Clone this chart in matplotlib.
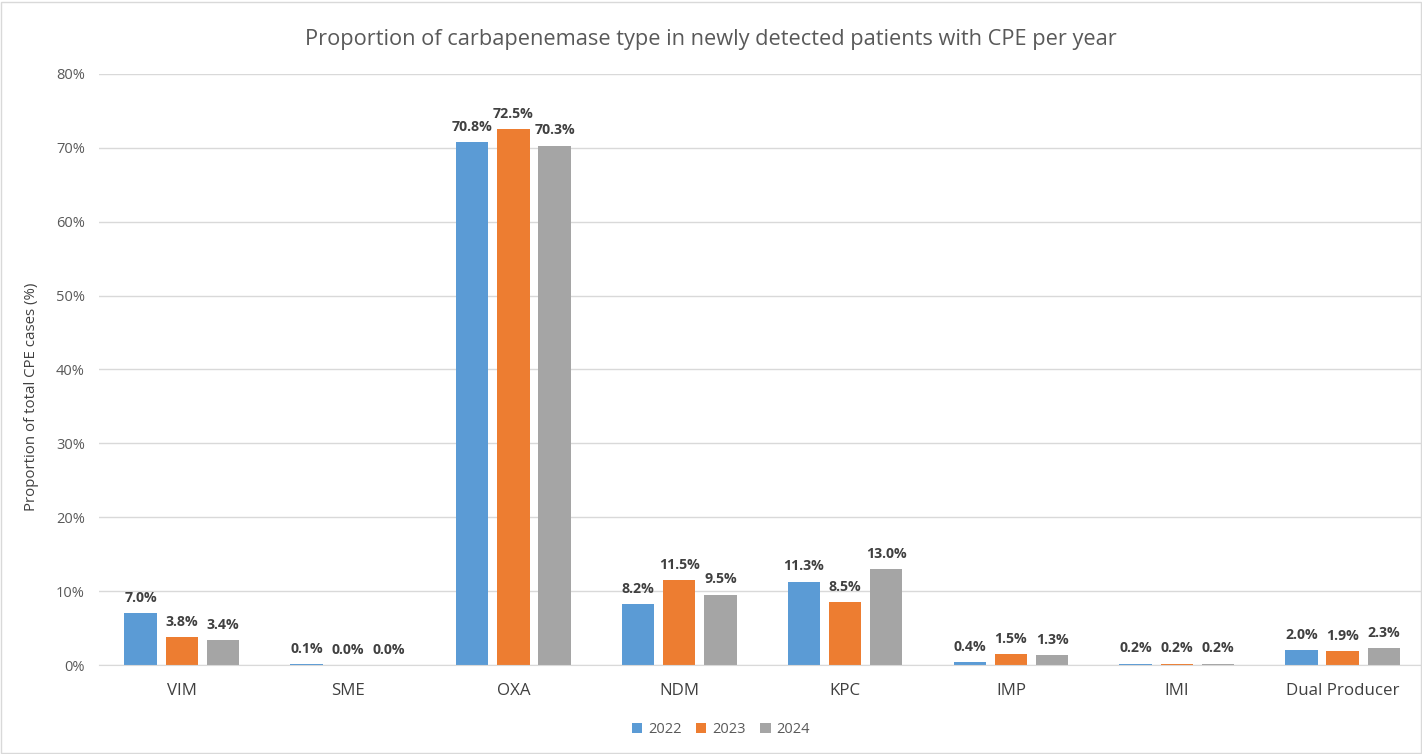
import matplotlib.pyplot as plt
from matplotlib.patches import Rectangle
import numpy as np

plt.rcParams['font.family'] = ['Open Sans', 'DejaVu Sans']

categories = ["VIM", "SME", "OXA", "NDM", "KPC", "IMP", "IMI", "Dual Producer"]
years = ["2022", "2023", "2024"]
y2022 = [7.0, 0.1, 70.8, 8.2, 11.3, 0.4, 0.2, 2.0]
y2023 = [3.8, 0.0, 72.5, 11.5, 8.5, 1.5, 0.2, 1.9]
y2024 = [3.4, 0.0, 70.3, 9.5, 13.0, 1.3, 0.2, 2.3]
colors = ["#5B9BD5", "#ED7D31", "#A5A5A5"]

fig = plt.figure(figsize=(14.22, 7.54), dpi=100)
ax = fig.add_axes([0.0695, 0.118, 0.933, 0.784])

x = np.arange(len(categories))
w = 0.195
step = 0.248
for i, (vals, c, yr) in enumerate(zip([y2022, y2023, y2024], colors, years)):
    bars = ax.bar(x + (i - 1) * step, vals, w, color=c, label=yr)
    for b, v in zip(bars, vals):
        ax.annotate(f"{v:.1f}%", (b.get_x() + b.get_width() / 2, v),
                    xytext=(0, 6), textcoords="offset points",
                    ha="center", va="bottom", fontsize=10.2,
                    fontweight="bold", color="#404040")

ax.set_xlim(-0.5, len(categories) - 0.5)
ax.set_ylim(0, 80)
ax.set_yticks(range(0, 81, 10))
ax.set_yticklabels([f"{t}%" for t in range(0, 81, 10)])
ax.set_xticks(x)
ax.set_xticklabels(categories)
ax.tick_params(axis='y', length=0, labelsize=10.5, colors="#595959", pad=10)
ax.tick_params(axis='x', length=0, labelsize=12.2, colors="#404040", pad=13)
ax.grid(axis='y', color="#d9d9d9", linewidth=1)
ax.set_axisbelow(True)
for s in ["top", "right", "left"]:
    ax.spines[s].set_visible(False)
ax.spines["bottom"].set_color("#d9d9d9")

ax.set_ylabel("Proportion of total CPE cases (%)", fontsize=10.8, color="#404040")
ax.yaxis.set_label_coords(-0.045, 0.453)
fig.suptitle("Proportion of carbapenemase type in newly detected patients with CPE per year",
             y=0.962, fontsize=15.7, color="#595959")

fig.legend(*ax.get_legend_handles_labels(), loc="center", bbox_to_anchor=(0.507, 0.032),
           ncol=3, frameon=False, fontsize=10.5, handlelength=0.7, handleheight=0.7,
           columnspacing=1.0, handletextpad=0.4, labelcolor="#595959")

fig.patches.append(Rectangle((0.001, 0.001), 0.998, 0.997, transform=fig.transFigure,
                             fill=False, edgecolor="#d9d9d9", linewidth=1))

fig.savefig("out.png", dpi=100)
